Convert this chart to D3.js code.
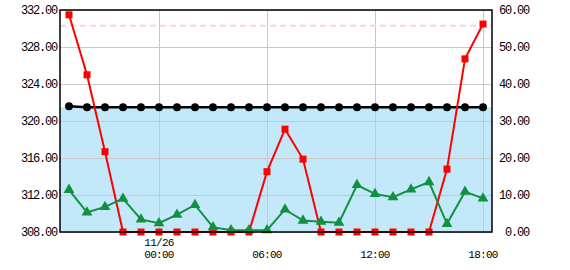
<!DOCTYPE html>
<html>
<head>
<meta charset="utf-8">
<script src="https://cdn.jsdelivr.net/npm/d3@7"></script>
<style>
  body { margin: 0; background: #fff; }
  text { font-family: "Liberation Mono", "DejaVu Sans Mono", monospace; font-size: 12px; letter-spacing: -1.2px; fill: #000; }
  text.time { font-size: 11px; letter-spacing: -0.7px; }
</style>
</head>
<body>
<div id="chart"></div>
<script>
// Hourly observation times
const times = [
  "2023-11-25T19:00", "2023-11-25T20:00", "2023-11-25T21:00", "2023-11-25T22:00",
  "2023-11-25T23:00", "2023-11-26T00:00", "2023-11-26T01:00", "2023-11-26T02:00",
  "2023-11-26T03:00", "2023-11-26T04:00", "2023-11-26T05:00", "2023-11-26T06:00",
  "2023-11-26T07:00", "2023-11-26T08:00", "2023-11-26T09:00", "2023-11-26T10:00",
  "2023-11-26T11:00", "2023-11-26T12:00", "2023-11-26T13:00", "2023-11-26T14:00",
  "2023-11-26T15:00", "2023-11-26T16:00", "2023-11-26T17:00", "2023-11-26T18:00"
];

// Left axis series (black circles)
const levelValues = [321.6, 321.5, 321.5, 321.5, 321.5, 321.5, 321.5, 321.5,
  321.5, 321.5, 321.5, 321.5, 321.5, 321.5, 321.5, 321.5,
  321.5, 321.5, 321.5, 321.5, 321.5, 321.5, 321.5, 321.5];

// Right axis series (red squares)
const redValues = [58.7, 42.5, 21.7, 0, 0, 0, 0, 0, 0, 0, 0, 16.3,
  27.8, 19.7, 0, 0, 0, 0, 0, 0, 0, 17.0, 46.8, 56.2];

// Right axis series (green triangles)
const greenValues = [11.4, 5.3, 6.8, 9.0, 3.4, 2.4, 4.7, 7.3, 1.3, 0.5, 0.5, 0.5,
  6.1, 3.1, 2.8, 2.5, 12.7, 10.3, 9.4, 11.5, 13.5, 2.2, 10.9, 9.1];

// Reference levels (left axis)
const bandTop = 321.5;
const dashedLevel = 330.3;

const leftTicks = [308, 312, 316, 320, 324, 328, 332];
const rightTicks = [0, 10, 20, 30, 40, 50, 60];
const timeTicks = ["2023-11-26T00:00", "2023-11-26T06:00", "2023-11-26T12:00", "2023-11-26T18:00"];
const xDomain = ["2023-11-25T18:30", "2023-11-26T18:30"];

const width = 570;
const height = 270;
const margin = { top: 10, right: 78, bottom: 38, left: 60 };

const svg = d3.select("#chart")
  .append("svg")
  .attr("width", width)
  .attr("height", height);

const parse = d3.timeParse("%Y-%m-%dT%H:%M");

const x = d3.scaleTime()
  .domain(xDomain.map(parse))
  .range([margin.left, width - margin.right]);

const yL = d3.scaleLinear()
  .domain([308, 332])
  .range([height - margin.bottom, margin.top]);

const yR = d3.scaleLinear()
  .domain([0, 60])
  .range([height - margin.bottom, margin.top]);

const pts = (vals) => times.map((t, i) => ({ t: parse(t), v: vals[i] }));

// Blue band
svg.append("rect")
  .attr("x", margin.left)
  .attr("y", yL(bandTop))
  .attr("width", width - margin.right - margin.left)
  .attr("height", yL(308) - yL(bandTop))
  .attr("fill", "#c2e8fa");

// Grid lines
const grid = svg.append("g").attr("stroke", "#c8c8c8").attr("stroke-width", 1);
grid.selectAll("line.h")
  .data(leftTicks)
  .join("line")
  .attr("x1", margin.left).attr("x2", width - margin.right)
  .attr("y1", d => Math.round(yL(d)) + 0.5).attr("y2", d => Math.round(yL(d)) + 0.5);
grid.selectAll("line.v")
  .data(timeTicks.map(parse))
  .join("line")
  .attr("x1", d => Math.round(x(d)) + 0.5).attr("x2", d => Math.round(x(d)) + 0.5)
  .attr("y1", margin.top).attr("y2", height - margin.bottom);

// Pink dashed line
svg.append("line")
  .attr("x1", margin.left).attr("x2", width - margin.right)
  .attr("y1", yL(dashedLevel)).attr("y2", yL(dashedLevel))
  .attr("stroke", "#fdd0f0")
  .attr("stroke-width", 2)
  .attr("stroke-dasharray", "6,4");

// Black series
const blackData = pts(levelValues);
svg.append("path")
  .datum(blackData)
  .attr("fill", "none")
  .attr("stroke", "#000")
  .attr("stroke-width", 2.5)
  .attr("d", d3.line().x(d => x(d.t)).y(d => yL(d.v)));
svg.append("g")
  .selectAll("circle")
  .data(blackData)
  .join("circle")
  .attr("cx", d => x(d.t))
  .attr("cy", d => yL(d.v))
  .attr("r", 4)
  .attr("fill", "#000");

// Red series
const redData = pts(redValues);
svg.append("path")
  .datum(redData)
  .attr("fill", "none")
  .attr("stroke", "#ff0000")
  .attr("stroke-width", 2)
  .attr("d", d3.line().x(d => x(d.t)).y(d => yR(d.v)));
svg.append("g")
  .selectAll("rect")
  .data(redData)
  .join("rect")
  .attr("x", d => x(d.t) - 3.5)
  .attr("y", d => yR(d.v) - 3.5)
  .attr("width", 7)
  .attr("height", 7)
  .attr("fill", "#ff0000");

// Green series
const greenData = pts(greenValues);
svg.append("path")
  .datum(greenData)
  .attr("fill", "none")
  .attr("stroke", "#109040")
  .attr("stroke-width", 2)
  .attr("d", d3.line().x(d => x(d.t)).y(d => yR(d.v)));
svg.append("g")
  .selectAll("path")
  .data(greenData)
  .join("path")
  .attr("transform", d => `translate(${x(d.t)},${yR(d.v)})`)
  .attr("d", d3.symbol(d3.symbolTriangle, 50))
  .attr("fill", "#109040");

// Frame
svg.append("rect")
  .attr("x", margin.left)
  .attr("y", margin.top)
  .attr("width", width - margin.right - margin.left)
  .attr("height", height - margin.bottom - margin.top)
  .attr("fill", "none")
  .attr("stroke", "#000")
  .attr("stroke-width", 1.5);

// Left axis labels
svg.append("g")
  .selectAll("text")
  .data(leftTicks)
  .join("text")
  .attr("x", 57)
  .attr("y", d => yL(d))
  .attr("dy", "0.35em")
  .attr("text-anchor", "end")
  .text(d => d.toFixed(2));

// Right axis labels
svg.append("g")
  .selectAll("text")
  .data(rightTicks)
  .join("text")
  .attr("x", 529)
  .attr("y", d => yR(d))
  .attr("dy", "0.35em")
  .attr("text-anchor", "end")
  .text(d => d.toFixed(2));

// Time labels, with the date above the midnight tick
const fmtTime = d3.timeFormat("%H:%M");
const fmtDate = d3.timeFormat("%m/%d");
const tickDates = timeTicks.map(parse);
svg.append("g")
  .selectAll("text")
  .data(tickDates)
  .join("text")
  .attr("class", "time")
  .attr("x", d => x(d))
  .attr("y", 258)
  .attr("text-anchor", "middle")
  .text(fmtTime);
svg.append("g")
  .selectAll("text")
  .data(tickDates.filter(d => d.getHours() === 0))
  .join("text")
  .attr("class", "time")
  .attr("x", d => x(d))
  .attr("y", 245.5)
  .attr("text-anchor", "middle")
  .text(fmtDate);
</script>
</body>
</html>
